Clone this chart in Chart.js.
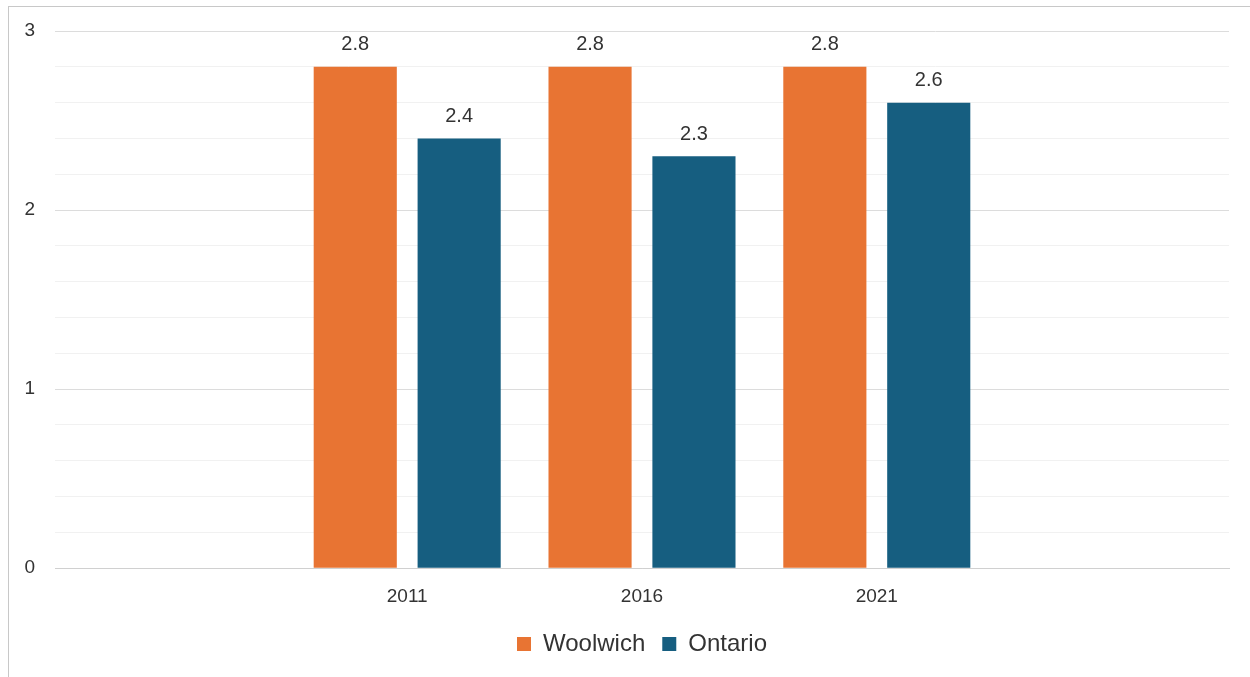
<!DOCTYPE html>
<html>
<head>
<meta charset="utf-8">
<script src="https://cdn.jsdelivr.net/npm/chart.js@4.4.1/dist/chart.umd.min.js"></script>
<style>
  html, body { margin: 0; padding: 0; background: #fff; overflow: hidden; }
  #frame {
    position: absolute; left: 8px; top: 6px;
    width: 1300px; height: 700px;
    border: 1px solid #c8c8c8;
  }
  #wrap { position: absolute; left: 0; top: 0; width: 1241px; height: 670px; }
</style>
</head>
<body>
<div id="frame">
  <div id="wrap"><canvas id="chart"></canvas></div>
</div>
<script>
// blank categories at both ends keep the three years in the middle
var categories = ['', '2011', '2016', '2021', ''];
var woolwich = [null, 2.8, 2.8, 2.8, null];
var ontario = [null, 2.4, 2.3, 2.6, null];
var yTicks = [0, 1, 2, 3];

var FONT = '"Liberation Sans", Arial, sans-serif';

// draw the value above each bar
var valueLabels = {
  id: 'valueLabels',
  afterDatasetsDraw: function (chart) {
    var ctx = chart.ctx;
    ctx.save();
    ctx.font = '20px ' + FONT;
    ctx.fillStyle = '#333333';
    ctx.textAlign = 'center';
    ctx.textBaseline = 'bottom';
    chart.data.datasets.forEach(function (ds, i) {
      var meta = chart.getDatasetMeta(i);
      meta.data.forEach(function (bar, j) {
        var v = ds.data[j];
        if (v === null || v === undefined) return;
        ctx.fillText(v.toFixed(1), bar.x, bar.y - 12);
      });
    });
    ctx.restore();
  }
};

function isMajor(v) {
  return yTicks.some(function (t) { return Math.abs(t - v) < 1e-6; });
}

new Chart(document.getElementById('chart'), {
  type: 'bar',
  data: {
    labels: categories,
    datasets: [
      { label: 'Woolwich', data: woolwich, backgroundColor: '#E87433' },
      { label: 'Ontario', data: ontario, backgroundColor: '#165E80' }
    ]
  },
  plugins: [valueLabels],
  options: {
    responsive: true,
    maintainAspectRatio: false,
    animation: false,
    datasets: {
      bar: { categoryPercentage: 0.885, barPercentage: 0.8 }
    },
    layout: { padding: { top: 24, right: 21, bottom: 11, left: 0 } },
    plugins: {
      tooltip: { enabled: false },
      legend: {
        position: 'bottom',
        fullSize: false,
        labels: {
          font: { family: FONT, size: 24 },
          color: '#333333',
          boxWidth: 14,
          boxHeight: 14,
          padding: 17
        }
      }
    },
    scales: {
      x: {
        afterFit: function (axis) {
          // give back the extra room the wider legend padding takes
          axis.height -= 10;
        },
        grid: { display: false, drawTicks: false },
        border: { display: true, color: '#d0d0d0', width: 1 },
        ticks: {
          font: { family: FONT, size: 19 },
          color: '#333333',
          padding: 17,
          maxRotation: 0
        }
      },
      y: {
        min: 0,
        max: 3,
        afterFit: function (axis) {
          axis.width = 46;
          // tick padding should not push the plot top down
          axis.paddingTop = 0;
          axis.paddingBottom = 0;
        },
        border: { display: false },
        grid: {
          drawTicks: false,
          color: function (c) { return isMajor(c.tick.value) ? '#dcdcdc' : '#f1f1f1'; }
        },
        ticks: {
          stepSize: 0.2,
          autoSkip: false,
          font: { family: FONT, size: 19 },
          color: '#333333',
          padding: 20,
          callback: function (v) { return isMajor(v) ? String(Math.round(v)) : ''; }
        }
      }
    }
  }
});
</script>
</body>
</html>
